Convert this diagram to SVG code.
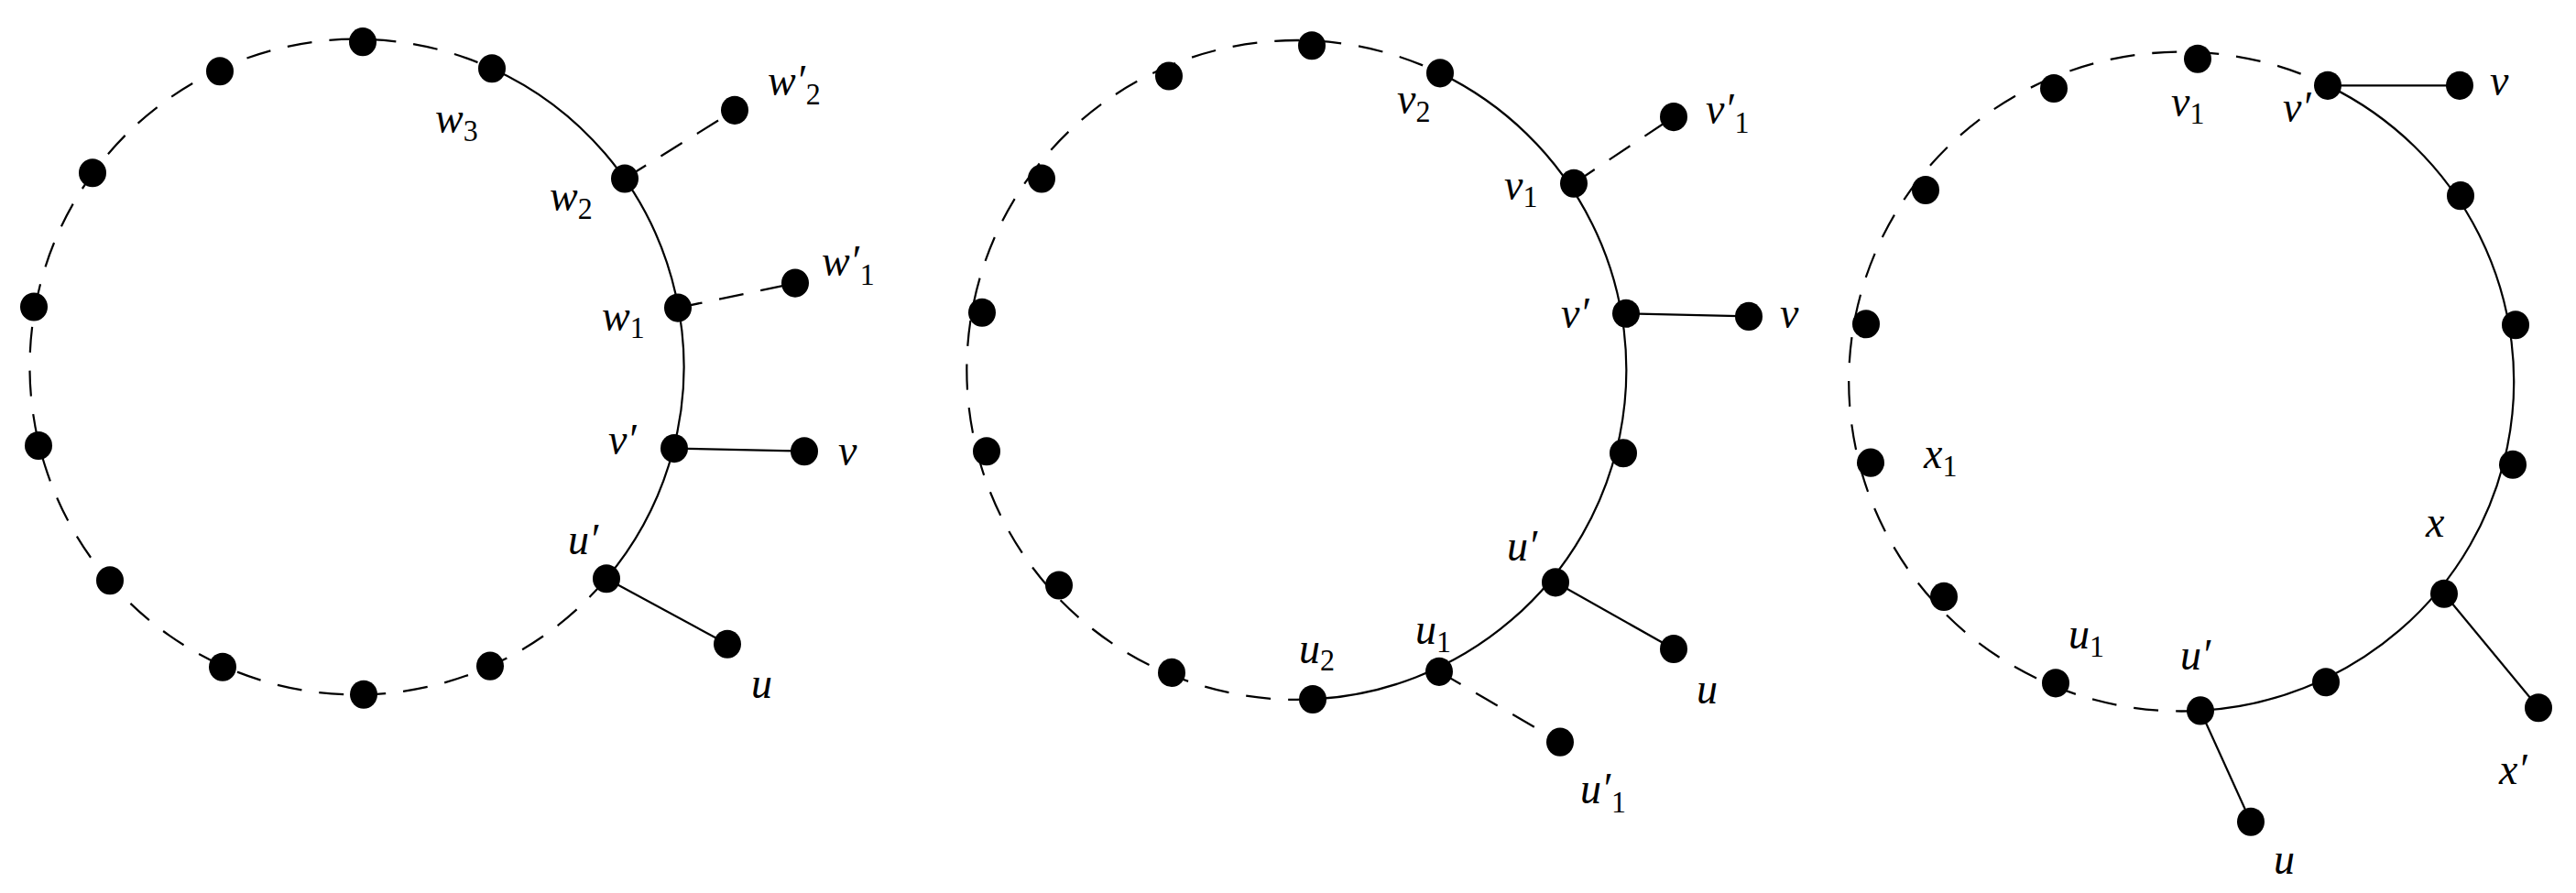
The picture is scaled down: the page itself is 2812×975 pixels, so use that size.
<svg xmlns="http://www.w3.org/2000/svg" width="2812" height="975" viewBox="0 0 2812 975">
<style>
.s{fill:none;stroke:#000;stroke-width:2.2}
.d{fill:none;stroke:#000;stroke-width:2.2;stroke-dasharray:27 19}
.n{fill:#000}
text{font-style:italic;font-size:46px;fill:#000}
.b{font-style:normal;font-size:32px}
</style>
<rect width="2812" height="975" fill="#fff"/>
<g transform="scale(1,1.0373)">
<g id="connectors">
<path class="s" d="M537,72 A357 345 0 0 1 662,609"/>
<path class="d" d="M662,609 A357 345 0 1 1 537,72"/>
<line class="d" x1="682" y1="188" x2="802" y2="116"/>
<line class="d" x1="740" y1="324" x2="868" y2="298"/>
<line class="s" x1="736" y1="472" x2="878" y2="475"/>
<line class="s" x1="662" y1="609" x2="794" y2="678"/>
<path class="s" d="M1572,77 A360 347 0 0 1 1433,736"/>
<path class="d" d="M1433,736 A360 347 0 1 1 1572,77"/>
<line class="d" x1="1718" y1="193" x2="1827" y2="123"/>
<line class="s" x1="1775" y1="330" x2="1909" y2="333"/>
<line class="s" x1="1698" y1="613" x2="1827" y2="683"/>
<line class="d" x1="1571" y1="707" x2="1703" y2="781"/>
<path class="s" d="M2541,90 A363 347 0 0 1 2402,748"/>
<path class="d" d="M2402,748 A363 347 0 1 1 2541,90"/>
<line class="s" x1="2541" y1="90" x2="2685" y2="90"/>
<line class="s" x1="2668" y1="625" x2="2771" y2="745"/>
<line class="s" x1="2402" y1="748" x2="2457" y2="865"/>
</g>
<g id="graph1" class="n">
<circle cx="396" cy="44" r="15"/><circle cx="240" cy="75" r="15"/><circle cx="537" cy="72" r="15"/><circle cx="101" cy="182" r="15"/><circle cx="682" cy="188" r="15"/><circle cx="37" cy="323" r="15"/><circle cx="740" cy="324" r="15"/><circle cx="42" cy="469" r="15"/><circle cx="736" cy="472" r="15"/><circle cx="120" cy="611" r="15"/><circle cx="662" cy="609" r="15"/><circle cx="243" cy="702" r="15"/><circle cx="535" cy="701" r="15"/><circle cx="397" cy="731" r="15"/>
<circle cx="802" cy="116" r="15"/><circle cx="868" cy="298" r="15"/><circle cx="878" cy="475" r="15"/><circle cx="794" cy="678" r="15"/>
</g>
<g id="graph2" class="n">
<circle cx="1432" cy="48" r="15"/><circle cx="1276" cy="80" r="15"/><circle cx="1572" cy="77" r="15"/><circle cx="1137" cy="188" r="15"/><circle cx="1718" cy="193" r="15"/><circle cx="1072" cy="329" r="15"/><circle cx="1775" cy="330" r="15"/><circle cx="1077" cy="475" r="15"/><circle cx="1772" cy="477" r="15"/><circle cx="1156" cy="616" r="15"/><circle cx="1698" cy="613" r="15"/><circle cx="1279" cy="708" r="15"/><circle cx="1571" cy="707" r="15"/><circle cx="1433" cy="736" r="15"/>
<circle cx="1827" cy="123" r="15"/><circle cx="1909" cy="333" r="15"/><circle cx="1827" cy="683" r="15"/><circle cx="1703" cy="781" r="15"/>
</g>
<g id="graph3" class="n">
<circle cx="2399" cy="62" r="15"/><circle cx="2242" cy="93" r="15"/><circle cx="2541" cy="90" r="15"/><circle cx="2102" cy="200" r="15"/><circle cx="2686" cy="206" r="15"/><circle cx="2037" cy="341" r="15"/><circle cx="2746" cy="342" r="15"/><circle cx="2042" cy="487" r="15"/><circle cx="2743" cy="489" r="15"/><circle cx="2122" cy="628" r="15"/><circle cx="2668" cy="625" r="15"/><circle cx="2244" cy="719" r="15"/><circle cx="2539" cy="718" r="15"/><circle cx="2402" cy="748" r="15"/>
<circle cx="2685" cy="90" r="15"/><circle cx="2771" cy="745" r="15"/><circle cx="2457" cy="865" r="15"/>
</g>
<g id="labels" font-family="'Liberation Serif', 'Times New Roman', serif">
<text x="475" y="140">w<tspan class="b" dy="8">3</tspan></text>
<text x="600" y="222">w<tspan class="b" dy="8">2</tspan></text>
<text x="657" y="348">w<tspan class="b" dy="8">1</tspan></text>
<text x="664" y="478">v′</text>
<text x="620" y="583">u′</text>
<text x="838" y="100">w′<tspan class="b" dx="1" dy="10">2</tspan></text>
<text x="897" y="290">w′<tspan class="b" dx="1" dy="10">1</tspan></text>
<text x="915" y="490">v</text>
<text x="820" y="735">u</text>
<text x="1525" y="120">v<tspan class="b" dy="8">2</tspan></text>
<text x="1642" y="210">v<tspan class="b" dy="8">1</tspan></text>
<text x="1704" y="345">v′</text>
<text x="1645" y="590">u′</text>
<text x="1545" y="678">u<tspan class="b" dy="8">1</tspan></text>
<text x="1418" y="698">u<tspan class="b" dy="8">2</tspan></text>
<text x="1862" y="130">v′<tspan class="b" dx="1" dy="10">1</tspan></text>
<text x="1943" y="345">v</text>
<text x="1852" y="740">u</text>
<text x="1725" y="845">u′<tspan class="b" dx="1" dy="10">1</tspan></text>
<text x="2370" y="122">v<tspan class="b" dy="8">1</tspan></text>
<text x="2492" y="128">v′</text>
<text x="2718" y="100">v</text>
<text x="2100" y="493">x<tspan class="b" dy="8">1</tspan></text>
<text x="2648" y="565">x</text>
<text x="2258" y="683">u<tspan class="b" dy="8">1</tspan></text>
<text x="2380" y="705">u′</text>
<text x="2728" y="825">x′</text>
<text x="2482" y="920">u</text>
</g>
</g>
</svg>
